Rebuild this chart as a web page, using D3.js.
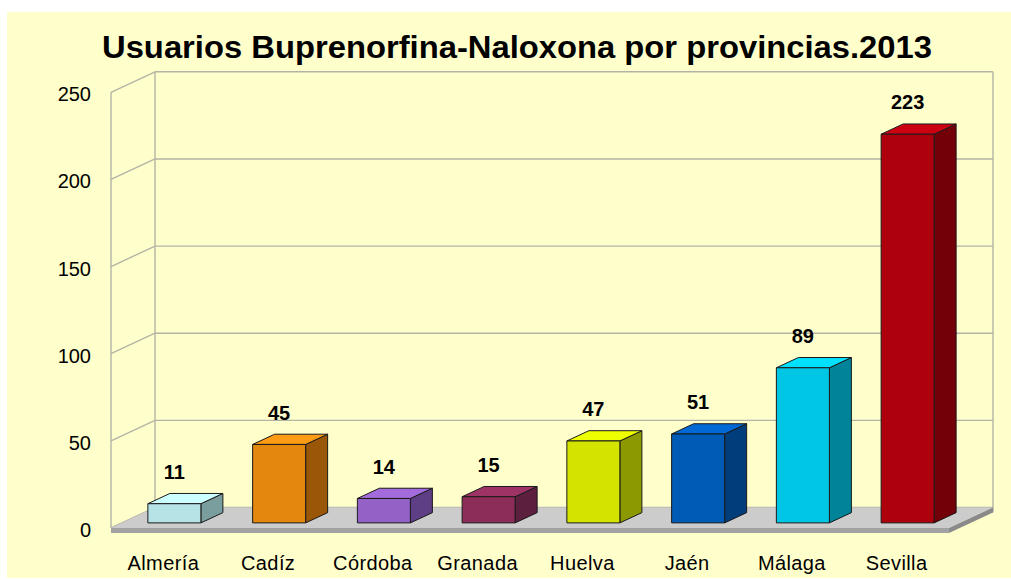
<!DOCTYPE html>
<html>
<head>
<meta charset="utf-8">
<script src="https://cdn.jsdelivr.net/npm/d3@7"></script>
<style>
  html, body { margin: 0; padding: 0; background: #ffffff; }
  svg text { font-family: "Liberation Sans", Arial, sans-serif; fill: #000; }
</style>
</head>
<body>
<div id="chart"></div>
<script>
// data
var provincias = ["Almería", "Cadíz", "Córdoba", "Granada", "Huelva", "Jaén", "Málaga", "Sevilla"];
var usuarios = [11, 45, 14, 15, 47, 51, 89, 223];
var yTicks = [0, 50, 100, 150, 200, 250];
var titulo = "Usuarios Buprenorfina-Naloxona por provincias.2013";

// colours per bar: front, side, top
var palette = [
	["#b6e3e5", "#7a9e9e", "#ccffff"],
	["#e3870f", "#9a5708", "#ff9a14"],
	["#9461c7", "#5e3e85", "#a36bdb"],
	["#8b2d58", "#5c1f3d", "#9e3366"],
	["#d4e300", "#8c9900", "#eeff00"],
	["#005bb7", "#003d7a", "#0069d6"],
	["#00c6e6", "#008499", "#00e1ff"],
	["#ae000c", "#730008", "#cc0010"]
];

var W = 1011, H = 580;
// 3D depth offset of the back wall
var DX = 44, DY = -20.5;

var svg = d3.select("#chart").append("svg")
	.attr("width", W)
	.attr("height", H);

svg.append("rect")
	.attr("x", 7).attr("y", 12)
	.attr("width", W - 7).attr("height", 566)
	.attr("fill", "#ffffcc");

var x = d3.scaleBand().domain(provincias).range([111, 949]).padding(0);
var y = d3.scaleLinear().domain([0, 250]).range([528, 92.3]);

svg.append("text")
	.attr("x", 102).attr("y", 58)
	.attr("textLength", 830)
	.attr("lengthAdjust", "spacingAndGlyphs")
	.style("font-size", "31px")
	.style("font-weight", "bold")
	.text(titulo);

// walls / grid
var grid = svg.append("g")
	.attr("stroke", "#b4b4a6")
	.attr("stroke-width", 1.4)
	.attr("fill", "none");

grid.selectAll("line.back")
	.data(yTicks)
	.enter().append("line")
	.attr("x1", 111 + DX).attr("x2", 949 + DX)
	.attr("y1", function(d) { return y(d) + DY; })
	.attr("y2", function(d) { return y(d) + DY; });

grid.selectAll("line.side")
	.data(yTicks)
	.enter().append("line")
	.attr("x1", 111).attr("x2", 111 + DX)
	.attr("y1", function(d) { return y(d); })
	.attr("y2", function(d) { return y(d) + DY; });

grid.append("line")
	.attr("x1", 111).attr("x2", 111)
	.attr("y1", y(250)).attr("y2", y(0));
grid.append("line")
	.attr("x1", 111 + DX).attr("x2", 111 + DX)
	.attr("y1", y(250) + DY).attr("y2", y(0) + DY);
grid.append("line")
	.attr("x1", 949 + DX).attr("x2", 949 + DX)
	.attr("y1", y(250) + DY).attr("y2", y(0) + DY + 5);

// floor
var fx0 = x.range()[0], fx1 = x.range()[1], fy = y(0);
var pts = function(a) { return a.map(function(p) { return p.join(","); }).join(" "); };
svg.append("polygon")
	.attr("points", pts([[fx0, fy], [fx1, fy], [fx1 + DX, fy + DY], [fx0 + DX, fy + DY]]))
	.attr("fill", "#cccccc");
svg.append("polygon")
	.attr("points", pts([[fx0, fy], [fx1, fy], [fx1, fy + 5], [fx0, fy + 5]]))
	.attr("fill", "#a2a2a2");
svg.append("polygon")
	.attr("points", pts([[fx1, fy], [fx1 + DX, fy + DY], [fx1 + DX, fy + DY + 5], [fx1, fy + 5]]))
	.attr("fill", "#8a8a8a");

// y axis labels
svg.selectAll("text.ytick")
	.data(yTicks)
	.enter().append("text")
	.attr("class", "ytick")
	.attr("x", 91)
	.attr("y", function(d) { return y(d) + 9; })
	.attr("text-anchor", "end")
	.style("font-size", "20px")
	.text(function(d) { return d; });

// bars
var bw = x.bandwidth() * 0.506;
var fdx = DX * 0.25, fdy = DY * 0.25;   // front face depth offset
var bdx = DX * 0.5, bdy = DY * 0.5;     // bar depth

var bars = svg.selectAll("g.bar")
	.data(provincias.map(function(p, i) { return { name: p, value: usuarios[i], c: palette[i] }; }))
	.enter().append("g")
	.attr("class", "bar")
	.attr("stroke", "#1a1a1a")
	.attr("stroke-width", 1)
	.attr("stroke-linejoin", "round");

bars.each(function(d) {
	var g = d3.select(this);
	var l = x(d.name) + (x.bandwidth() - bw) / 2 + fdx;
	var r = l + bw;
	var b = y(0) + fdy;
	var t = y(d.value) + fdy;
	g.append("polygon")
		.attr("points", pts([[r, b], [r + bdx, b + bdy], [r + bdx, t + bdy], [r, t]]))
		.attr("fill", d.c[1]);
	g.append("polygon")
		.attr("points", pts([[l, t], [r, t], [r + bdx, t + bdy], [l + bdx, t + bdy]]))
		.attr("fill", d.c[2]);
	g.append("rect")
		.attr("x", l).attr("y", t)
		.attr("width", bw).attr("height", b - t)
		.attr("fill", d.c[0]);
	g.append("text")
		.attr("x", (l + r) / 2)
		.attr("y", t + bdy - 14.5)
		.attr("text-anchor", "middle")
		.attr("stroke", "none")
		.style("font-size", "20px")
		.style("font-weight", "bold")
		.text(d.value);
});

// category labels
svg.selectAll("text.cat")
	.data(provincias)
	.enter().append("text")
	.attr("class", "cat")
	.attr("x", function(d) { return x(d) + x.bandwidth() / 2; })
	.attr("y", 570)
	.attr("text-anchor", "middle")
	.style("font-size", "20px")
	.style("letter-spacing", "0.4px")
	.text(function(d) { return d; });
</script>
</body>
</html>
